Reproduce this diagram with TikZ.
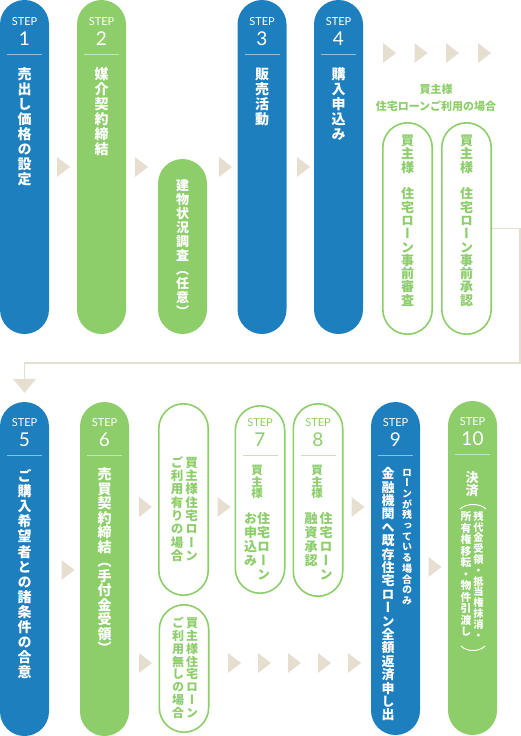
\documentclass[tikz,border=0pt]{standalone}
\usepackage{fontspec}
\usepackage{xcolor}
\usetikzlibrary{arrows.meta,positioning,calc}
\newfontfamily\jp[RawFeature=+vert]{Noto Sans CJK JP}
\newfontfamily\jph{Noto Sans CJK JP}
\newfontfamily\stepfont{Lato}
\definecolor{stepblue}{HTML}{1D7FBE}
\definecolor{stepgreen}{HTML}{8DCE6B}
\definecolor{arrowc}{HTML}{E6DECF}

% vertical text: one character per line
\def\vtE{}
\def\vt#1{\vtA#1\vtE}
\def\vtA#1{\rule{0pt}{.88em}#1\vtB}
\def\vtB#1{\ifx#1\vtE\else\\#1\expandafter\vtB\fi}

\begin{document}
\begin{tikzpicture}[x=1pt, y=-1pt,
  bpill/.style={fill=stepblue, rounded corners=24.5pt, minimum width=49pt, inner sep=0pt},
  gpill/.style={fill=stepgreen, rounded corners=24.5pt, minimum width=49pt, inner sep=0pt},
  opill/.style={draw=stepgreen, line width=1.6pt, fill=white, rounded corners=24.7pt, minimum width=49.4pt, inner sep=0pt},
  vtxt/.style 2 args={anchor=north, align=center, inner sep=0pt, font=\jp\bfseries\fontsize{#1}{#2}\selectfont},
  steptag/.style={font=\stepfont\fontsize{11}{11}\selectfont, inner sep=0pt},
  stepnum/.style={font=\stepfont\fontsize{19}{19}\selectfont, inner sep=0pt},
  flow/.style={draw=arrowc, line width=1.5pt, -{Triangle[width=23pt,length=14pt]}},
  tri/.pic={\fill[arrowc] (-6.5,-10) -- (6.5,0) -- (-6.5,10) -- cycle;},
]
\useasboundingbox (0,0) rectangle (521,736);

% top row
\node[bpill, minimum height=334pt] (s1) at (24.5,167) {};
\node[gpill, minimum height=334pt] (s2) at (101.5,167) {};
\node[gpill, minimum height=175pt] (insp) at (182.5,246.5) {};
\node[bpill, minimum height=334pt] (s3) at (262,167) {};
\node[bpill, minimum height=334pt] (s4) at (338.5,167) {};
\node[opill, minimum height=211.4pt] (rev) at (407.5,228.5) {};
\node[opill, minimum height=211.4pt] (appr) at (466.5,228.5) {};

% bottom row
\node[bpill, minimum height=334pt] (s5) at (24.5,569) {};
\node[gpill, minimum height=334pt] (s6) at (104.5,569) {};
\node[opill, minimum height=191.4pt] (yes) at (183.5,499.5) {};
\node[opill, minimum height=127.4pt] (no) at (184,668.5) {};
\node[opill, minimum height=187.4pt] (s7) at (260,499.5) {};
\node[opill, minimum height=192.4pt] (s8) at (318,500) {};
\node[bpill, minimum height=333pt] (s9) at (395.5,568.5) {};
\node[gpill, minimum height=334pt] (s10) at (472.5,568) {};

% step headers
\foreach \n/\k/\c/\y in {s1/1/white/0, s2/2/white/0, s3/3/white/0, s4/4/white/0,
    s5/5/white/401, s6/6/white/401, s7/7/stepgreen/401, s8/8/stepgreen/401,
    s9/9/white/401, s10/10/white/400} {
  \node[steptag, text=\c] at (\n.center |- 0,\y+22) {STEP};
  \node[stepnum, text=\c] at (\n.center |- 0,\y+38.5) {\k};
  \draw[\c, opacity=.5, line width=.8pt] ($(\n.center |- 0,\y+54)+(-17.5,0)$) -- ($(\n.center |- 0,\y+54)+(17.5,0)$);
}

% labels, top row
\node[vtxt={14}{15}, text=white] (l1) at (24.5,67) {\vt{売出し価格の設定}};
\node[vtxt={14}{15}, text=white] (l2) at (101.5,67) {\vt{媒介契約締結}};
\node[vtxt={13}{14}, text=white] (linsp) at (182.5,179) {\vt{建物状況調査（任意）}};
\node[vtxt={14}{15}, text=white] (l3) at (262,67) {\vt{販売活動}};
\node[vtxt={14}{15}, text=white] (l4) at (338.5,67) {\vt{購入申込み}};
\node[font=\jph\bfseries\fontsize{11}{17}\selectfont, text=stepgreen, align=center] (note) at (436,98) {買主様\\住宅ローンご利用の場合};
\node[vtxt={13}{13.3}, text=stepgreen] (lrev) at (407.5,134) {\vt{買主様　住宅ローン事前審査}};
\node[vtxt={13}{13.3}, text=stepgreen] (lappr) at (466.5,134) {\vt{買主様　住宅ローン事前承認}};

% labels, bottom row
\node[vtxt={14}{15.1}, text=white] (l5) at (24.5,469) {\vt{ご購入希望者との諸条件の合意}};
\node[vtxt={14}{14.5}, text=white] (l6) at (104.5,467) {\vt{売買契約締結（手付金受領）}};
\node[vtxt={12.5}{13.3}, text=stepgreen] (lyes1) at (191.5,456) {\vt{買主様住宅ローン}};
\node[vtxt={12.5}{13.3}, text=stepgreen] (lyes2) at (177,456) {\vt{ご利用有りの場合}};
\node[vtxt={12}{12.8}, text=stepgreen] (lno1) at (192,617) {\vt{買主様住宅ローン}};
\node[vtxt={12}{12.8}, text=stepgreen] (lno2) at (178,617) {\vt{ご利用無しの場合}};
\node[vtxt={11.5}{11.7}, text=stepgreen] (l7a) at (257,464) {\vt{買主様}};
\node[vtxt={13}{14}, text=stepgreen] (l7b) at (263.5,512) {\vt{住宅ローン}};
\node[vtxt={13}{14}, text=stepgreen] (l7c) at (250.5,512) {\vt{お申込み}};
\node[vtxt={11.5}{11.7}, text=stepgreen] (l8a) at (317,464) {\vt{買主様}};
\node[vtxt={13}{14}, text=stepgreen] (l8b) at (326,512) {\vt{住宅ローン}};
\node[vtxt={13}{14}, text=stepgreen] (l8c) at (311,512) {\vt{融資承認}};
\node[vtxt={10}{10.7}, text=white] (l9a) at (407,467) {\vt{ローンが残っている場合のみ}};
\node[vtxt={13}{13.4}, text=white] (l9b) at (388,467) {\vt{金融機関へ既存住宅ローン全額返済申し出}};
\node[vtxt={13}{13}, text=white] (l10a) at (472,471) {\vt{決済}};
\node[vtxt={10.3}{10.8}, text=white] (l10b) at (478.5,511) {\vt{残代金受領・抵当権抹消・}};
\node[vtxt={10.8}{11.5}, text=white] (l10c) at (466,511) {\vt{所有権移転・物件引渡し}};
\draw[white, line width=1pt] (460,509) .. controls (466,503) and (480,503) .. (486,509);
\draw[white, line width=1pt] (461,646) .. controls (467,652) and (479,652) .. (485,646);

% arrows between steps
\pic at (63.5,167) {tri};
\pic at (141.5,167) {tri};
\pic at (225.5,167) {tri};
\pic at (303.5,167) {tri};
\foreach \x in {389.5,421,452.5,484.5} \pic at (\x,53) {tri};
\pic at (68,570) {tri};
\pic at (145.5,507) {tri};
\pic at (145.5,663) {tri};
\pic at (224,507) {tri};
\pic at (358,507) {tri};
\foreach \x in {234.5,264.5,294.5,324.5,354.5} \pic at (\x,663) {tri};
\pic at (435,567) {tri};

% return line to step 5
\coordinate (turn) at (520,363);
\draw[flow, shorten >=9pt] (appr.east) -| (turn) -| (s5.north);

\end{tikzpicture}
\end{document}
